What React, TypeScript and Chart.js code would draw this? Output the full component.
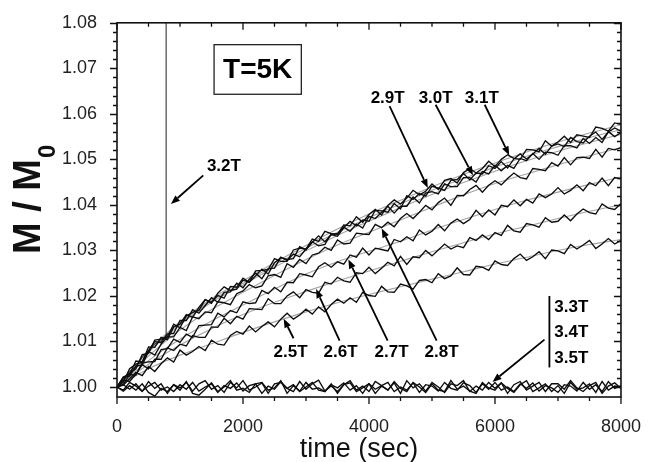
import React, { useEffect, useRef } from 'react';
import { Chart, registerables } from 'chart.js';

Chart.register(...registerables);

const FONT = "'Liberation Sans', Arial, Helvetica, sans-serif";

// ---- data (values given as (M/M0 - 1) x 10^4) ----
const times = Array.from({ length: 81 }, (_, i) => i * 100); // sampling grid, seconds
const fitTimes = [0, 500, 1000, 1500, 2000, 2500, 3000, 3500, 4000, 4500, 5000, 5500, 6000, 6500, 7000, 7500, 8000];

const m25 = [0,4,18,32,25,45,34,51,64,55, 81,70,78,89,80,103,94,92,113,122, 116,134,121,133,143,132,149,162,149,158, 171,160,176,165,181,193,184,196,186,208, 201,199,221,209,208,226,222,215,234,236, 229,249,238,244,262,247,246,265,263,256, 277,269,267,282,292,278,286,297,282,301, 299,293,313,303,312,322,304,314,326,314, 322];
const m26 = [0,15,12,28,49,40,61,61,86,80, 94,90,113,109,109,132,131,151,139,155, 149,172,171,170,194,183,183,200,209,196, 214,208,206,230,226,241,233,230,251,249, 263,249,261,274,266,287,269,286,284,300, 288,301,314,303,310,306,328,322,334,324, 339,333,355,343,340,359,356,351,372,362, 364,378,365,380,391,383,380,402,393,390, 403];
const m27 = [0,6,27,26,53,55,56,82,84,105, 98,116,109,135,136,137,162,154,168,163, 187,183,185,212,205,219,209,230,229,249, 246,242,264,273,263,275,270,290,285,305, 290,305,302,299,324,319,330,321,345,334, 342,357,343,360,369,359,368,388,374,389, 378,399,396,411,398,412,404,424,416,424, 438,424,432,444,431,449,442,459,442,460, 457];
const m28 = [0,21,24,46,48,78,70,94,110,110, 131,124,154,150,165,163,187,185,181,205, 211,225,218,222,244,247,241,271,263,280, 271,290,294,307,300,323,314,316,338,336, 335,357,350,362,352,370,381,370,384,399, 389,405,415,399,421,420,434,443,428,443, 453,444,458,470,460,457,480,478,475,493, 485,504,488,504,505,502,522,505,524,521, 526];
const m29 = [0,22,28,57,55,80,100,97,116,118, 146,146,170,162,179,196,186,208,209,228, 218,237,250,238,260,261,285,278,292,286, 303,319,310,313,336,336,351,342,358,349, 375,370,384,397,382,397,397,417,404,426, 429,424,446,440,440,460,460,450,473,468, 487,475,487,480,502,497,513,500,516,515, 509,530,530,525,546,535,548,537,561,550, 559];
const m30 = [0,11,40,50,54,88,87,109,104,132, 138,159,153,175,192,186,201,195,221,219, 239,230,244,259,248,273,284,280,282,308, 301,318,332,319,335,331,350,364,354,367, 364,388,387,384,403,391,420,412,425,419, 441,437,432,454,456,469,455,470,468,486, 480,495,481,501,512,501,512,524,511,529, 534,528,548,539,536,551,560,544,560,569, 562];
const m31 = [0,20,30,40,71,74,103,105,110,138, 130,156,164,168,192,184,206,220,212,215, 235,230,255,256,258,282,276,276,301,305, 303,325,320,342,337,336,356,354,374,362, 379,390,378,399,411,402,415,432,422,430, 446,434,454,458,448,471,480,470,480,496, 484,500,510,502,500,522,521,517,541,529, 538,551,537,554,551,548,571,568,562,580, 577];
const t32 = [0, 100, 200, 300, 400, 500, 600, 700, 780, 780];
const m32 = [0, 14, 35, 44, 66, 79, 95, 101, 113, 900];
const m33 = [0,-7,10,2,-10,12,-3,7,-14,5, -2,10,-9,7,14,-5,3,-12,10,-2, 14,-7,0,9,-14,7,10,-3,-10,12, -5,7,15,-9,2,-10,5,14,-7,2, -10,12,3,-7,9,-14,14,-2,7,-9, 10,0,-12,7,3,14,-10,2,-7,10, -3,9,-14,5,12,-7,2,10,-10,7, 7,-5,14,-2,-10,3,10,-14,2,9, -3];
const m34 = [0,-9,3,-7,7,-12,-20,-3,-10,5, -7,12,-14,-18,-5,9,-10,0,14,-7, -3,-12,7,10,-7,-2,14,-14,3,-9, 10,-5,-2,-10,7,-14,5,9,-10,-2, 7,-14,2,-7,12,-3,-10,10,0,-12, 7,-7,-10,14,-5,2,-9,-14,10,-2, -7,9,-3,-12,5,14,-10,-2,7,-10, 3,-14,10,-5,-2,7,-12,12,-7,2, 0];
const m35 = [0,5,-5,7,-9,2,10,-7,0,-10, 5,-5,10,-9,0,7,-12,3,-3,9, -9,3,7,-14,2,-5,12,-3,5,-10, 0,10,-7,-10,5,-2,9,-7,3,-14, 7,-5,3,10,-10,0,-7,9,-12,5, 2,-9,10,-3,-7,9,3,-12,7,-5, 10,-7,0,-10,7,-3,9,-9,3,-2, -12,5,2,-9,10,-5,5,-10,12,-3, 3];

// fitted curves (grey)
const f25 = [0,40,70,95,120,143,165,185,203,220,237,253,270,285,300,313,324];
const f26 = [0,50,92,128,159,186,210,233,255,276,297,317,336,353,370,386,400];
const f27 = [0,58,105,145,180,215,248,275,298,320,345,368,390,410,428,445,461];
const f28 = [0,68,125,170,208,245,280,312,340,367,395,422,447,468,488,508,526];
const f29 = [0,76,137,186,224,263,299,333,364,394,423,449,474,497,518,537,555];
const f30 = [0,78,140,190,228,268,305,340,372,402,432,458,483,507,528,548,565];
const f31 = [0,80,143,194,233,273,311,347,380,410,440,467,492,516,538,558,576];

const xTicks = [0, 2000, 4000, 6000, 8000];
const yTicks = [1.0, 1.01, 1.02, 1.03, 1.04, 1.05, 1.06, 1.07, 1.08];
const xMinorStep = 500;
const yMinorStep = 0.002;

// annotations in data coordinates (time, M/M0)
const textLabels = [
  { text: '2.9T', t: 4296, v: 1.0635 },
  { text: '3.0T', t: 5058, v: 1.0635 },
  { text: '3.1T', t: 5790, v: 1.0635 },
  { text: '3.2T', t: 1697, v: 1.0485 },
  { text: '2.5T', t: 2755, v: 1.0076 },
  { text: '2.6T', t: 3549, v: 1.0076 },
  { text: '2.7T', t: 4358, v: 1.0076 },
  { text: '2.8T', t: 5152, v: 1.0076 },
];
const fieldLabelsLow = [
  { text: '3.3T', t: 6942, v: 1.0176 },
  { text: '3.4T', t: 6942, v: 1.0120 },
  { text: '3.5T', t: 6942, v: 1.0064 },
];
const arrows = [
  { t0: 4327, v0: 1.0617, t1: 4934, v1: 1.0437 },
  { t0: 5058, v0: 1.0620, t1: 5650, v1: 1.0465 },
  { t0: 5837, v0: 1.0620, t1: 6226, v1: 1.0509 },
  { t0: 1370, v0: 1.0465, t1: 856, v1: 1.0402 },
  { t0: 2802, v0: 1.0107, t1: 2646, v1: 1.0150 },
  { t0: 3533, v0: 1.0102, t1: 3160, v1: 1.0215 },
  { t0: 4296, v0: 1.0102, t1: 3673, v1: 1.0280 },
  { t0: 5074, v0: 1.0102, t1: 4202, v1: 1.0348 },
  { t0: 6786, v0: 1.0104, t1: 5961, v1: 1.0011 },
];
const bracket = { t: 6864, v0: 1.0200, v1: 1.0043 };
const tempBox = { t0: 1541, t1: 2926, v0: 1.0752, v1: 1.0643, text: 'T=5K' };

const toY = (v: number) => 1 + v / 10000;
const series = (ts: number[], vs: number[]) => vs.map((v, i) => ({ x: ts[i], y: toY(v) }));

const decor = {
  id: 'decor',
  afterDatasetsDraw(chart: any) {
    const { ctx, chartArea: a, scales } = chart;
    const x = scales.x, y = scales.y;
    ctx.save();
    // frame
    ctx.strokeStyle = '#111';
    ctx.lineWidth = 1.6;
    ctx.strokeRect(a.left, a.top, a.right - a.left, a.bottom - a.top);
    // ticks
    ctx.lineWidth = 1.3;
    ctx.beginPath();
    for (let k = 0; k * xMinorStep <= 8000; k++) {
      const v = k * xMinorStep;
      const px = x.getPixelForValue(v);
      const len = v % 2000 === 0 ? 7 : 4;
      ctx.moveTo(px, a.bottom); ctx.lineTo(px, a.bottom + len);
      ctx.moveTo(px, a.top); ctx.lineTo(px, a.top + len);
    }
    for (let k = 0; k <= 40; k++) {
      const v = 1 + k * yMinorStep;
      const py = Math.round(y.getPixelForValue(v)) + 0.5;
      const len = k % 5 === 0 ? 7 : 4;
      ctx.moveTo(a.left, py); ctx.lineTo(a.left - len, py);
      ctx.moveTo(a.right, py); ctx.lineTo(a.right - len, py);
    }
    ctx.stroke();

    // arrows
    ctx.strokeStyle = '#000';
    ctx.fillStyle = '#000';
    ctx.lineWidth = 1.8;
    for (const ar of arrows) {
      const x0 = x.getPixelForValue(ar.t0), y0 = y.getPixelForValue(ar.v0);
      const x1 = x.getPixelForValue(ar.t1), y1 = y.getPixelForValue(ar.v1);
      const ang = Math.atan2(y1 - y0, x1 - x0);
      const hl = 9, hw = 3.5;
      const bx = x1 - hl * Math.cos(ang), by = y1 - hl * Math.sin(ang);
      ctx.beginPath(); ctx.moveTo(x0, y0); ctx.lineTo(bx, by); ctx.stroke();
      ctx.beginPath();
      ctx.moveTo(x1, y1);
      ctx.lineTo(bx + hw * Math.sin(ang), by - hw * Math.cos(ang));
      ctx.lineTo(bx - hw * Math.sin(ang), by + hw * Math.cos(ang));
      ctx.closePath(); ctx.fill();
    }
    // bracket bar
    const bxp = x.getPixelForValue(bracket.t);
    ctx.beginPath();
    ctx.moveTo(bxp, y.getPixelForValue(bracket.v0));
    ctx.lineTo(bxp, y.getPixelForValue(bracket.v1));
    ctx.stroke();

    // labels
    ctx.font = `bold 17px ${FONT}`;
    ctx.textBaseline = 'middle';
    ctx.textAlign = 'center';
    for (const l of textLabels) ctx.fillText(l.text, x.getPixelForValue(l.t), y.getPixelForValue(l.v));
    ctx.textAlign = 'left';
    for (const l of fieldLabelsLow) ctx.fillText(l.text, x.getPixelForValue(l.t), y.getPixelForValue(l.v));

    // T=5K box
    const bl = x.getPixelForValue(tempBox.t0), br = x.getPixelForValue(tempBox.t1);
    const bt = y.getPixelForValue(tempBox.v0), bb = y.getPixelForValue(tempBox.v1);
    ctx.fillStyle = '#fff';
    ctx.fillRect(bl, bt, br - bl, bb - bt);
    ctx.lineWidth = 1.3;
    ctx.strokeStyle = '#222';
    ctx.strokeRect(bl, bt, br - bl, bb - bt);
    ctx.fillStyle = '#000';
    ctx.font = `bold 28px ${FONT}`;
    ctx.textAlign = 'center';
    ctx.fillText(tempBox.text, (bl + br) / 2, (bt + bb) / 2 + 1);

    // axis titles
    ctx.fillStyle = '#111';
    ctx.font = `27px ${FONT}`;
    ctx.textAlign = 'center';
    ctx.textBaseline = 'middle';
    ctx.fillText('time (sec)', (a.left + a.right) / 2 - 10, 450);

    ctx.save();
    ctx.translate(40, (a.top + a.bottom) / 2 - 10);
    ctx.rotate(-Math.PI / 2);
    ctx.font = `bold 38px ${FONT}`;
    const main = 'M / M';
    const w1 = ctx.measureText(main).width;
    ctx.font = `bold 24px ${FONT}`;
    const w2 = ctx.measureText('0').width;
    const start = -(w1 + w2) / 2;
    ctx.textAlign = 'left';
    ctx.textBaseline = 'alphabetic';
    ctx.font = `bold 38px ${FONT}`;
    ctx.fillText(main, start, 0);
    ctx.font = `bold 24px ${FONT}`;
    ctx.fillText('0', start + w1 + 1, 15);
    ctx.restore();

    ctx.restore();
  },
};

export default function App() {
  const ref = useRef<HTMLCanvasElement>(null);
  useEffect(() => {
    const black = (label: string, data: any[]) => ({
      label, data, borderColor: '#0d0d0d', borderWidth: 1.35, pointRadius: 0, tension: 0, fill: false,
    });
    const grey = (label: string, data: any[]) => ({
      label, data, borderColor: '#a3a3a3', borderWidth: 1.1, pointRadius: 0, cubicInterpolationMode: 'monotone', fill: false,
    });
    const chart = new Chart(ref.current as HTMLCanvasElement, {
      type: 'line',
      data: {
        datasets: [
          black('2.5T', series(times, m25)),
          black('2.6T', series(times, m26)),
          black('2.7T', series(times, m27)),
          black('2.8T', series(times, m28)),
          black('2.9T', series(times, m29)),
          black('3.0T', series(times, m30)),
          black('3.1T', series(times, m31)),
          { ...black('3.2T', series(t32, m32)), borderWidth: 1.1, borderColor: '#333' },
          black('3.3T', series(times, m33)),
          black('3.4T', series(times, m34)),
          black('3.5T', series(times, m35)),
          grey('fit 2.5T', series(fitTimes, f25)),
          grey('fit 2.6T', series(fitTimes, f26)),
          grey('fit 2.7T', series(fitTimes, f27)),
          grey('fit 2.8T', series(fitTimes, f28)),
          grey('fit 2.9T', series(fitTimes, f29)),
          grey('fit 3.0T', series(fitTimes, f30)),
          grey('fit 3.1T', series(fitTimes, f31)),
        ] as any,
      },
      options: {
        animation: false,
        responsive: false,
        layout: { padding: { top: 19, right: 21, bottom: 0, left: 0 } },
        plugins: { legend: { display: false }, tooltip: { enabled: false } },
        scales: {
          x: {
            type: 'linear', min: 0, max: 8000,
            grid: { display: false }, border: { display: false },
            afterBuildTicks: (s: any) => { s.ticks = xTicks.map((v) => ({ value: v })); },
            afterFit: (s: any) => { s.height = 65; },
            ticks: { font: { family: FONT, size: 18 }, color: '#222', padding: 11, maxRotation: 0, callback: (v: any) => String(v) },
          },
          y: {
            type: 'linear', min: 0.9978, max: 1.08,
            grid: { display: false }, border: { display: false },
            afterBuildTicks: (s: any) => { s.ticks = yTicks.map((v) => ({ value: v })); },
            afterFit: (s: any) => { s.width = 117; },
            ticks: { font: { family: FONT, size: 18 }, color: '#222', padding: 12, callback: (v: any) => Number(v).toFixed(2) },
          },
        },
      } as any,
      plugins: [decor],
    });
    return () => chart.destroy();
  }, []);
  return (
    <div style={{ position: 'fixed', left: 0, top: 0, width: 652, height: 462, background: '#fff' }}>
      <canvas ref={ref} width={652} height={462} style={{ width: 652, height: 462, display: 'block' }} />
    </div>
  );
}
